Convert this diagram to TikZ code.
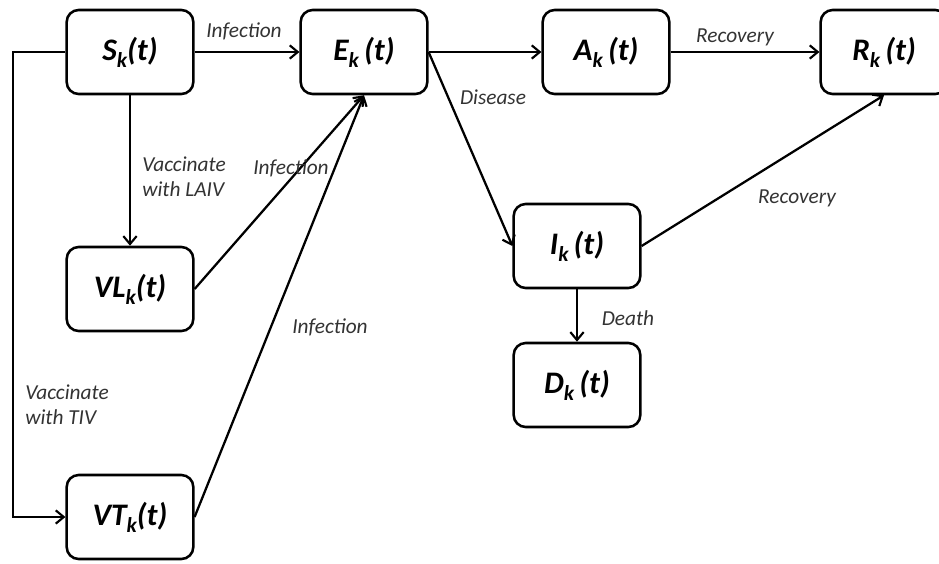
\documentclass[tikz,border=0pt]{standalone}
\usepackage{fontspec}
\setmainfont{Carlito}
\usetikzlibrary{arrows.meta}
\newcommand{\mysub}[1]{\raisebox{-0.45ex}{\fontsize{16}{16}\selectfont #1}}
\begin{document}
\begin{tikzpicture}[x=0.75pt,y=-0.75pt,
  box/.style={draw, line width=1.9pt, rounded corners=9pt, minimum width=95pt, minimum height=63pt,
    font=\fontsize{23.5}{25}\selectfont\bfseries\itshape, fill=white, inner sep=0pt},
  arr/.style={line width=1.7pt, -{Straight Barb[length=6pt,width=10pt,line width=1.6pt]}},
  lbl/.style={font=\fontsize{16}{19}\selectfont\itshape, text=black!80, inner sep=0pt, align=left}]
\clip (0,0) rectangle (939,564);
\fill[white] (0,0) rectangle (939,564);
% nodes
\node[box] (S)  at (130,52)  {S\mysub{k}(t)};
\node[box] (E)  at (364,52)  {E\mysub{k}\,(t)};
\node[box] (A)  at (606,52)  {A\mysub{k}\,(t)};
\node[box] (R)  at (884,52)  {R\mysub{k}\,(t)};
\node[box] (VL) at (130,289) {VL\mysub{k}(t)};
\node[box] (VT) at (130,517) {VT\mysub{k}(t)};
\node[box] (I)  at (577,246) {I\mysub{k}\,(t)};
\node[box] (D)  at (577,385) {D\mysub{k}\,(t)};
\coordinate (L) at (13,300);
% connectors
\draw[arr] (S) -- (E);
\draw[arr] (S) -- (VL);
\draw[arr] (S.west) -| (L) |- (VT.west);
\draw[arr] (VL.east) -- (E.south);
\draw[arr] (VT.east) -- (E.south);
\draw[arr] (E) -- (A);
\draw[arr] (A) -- (R);
\draw[arr] (E.east) -- (I.west);
\draw[arr] (I.east) -- (R.south);
\draw[arr] (I) -- (D);
% labels
\node[lbl] (l1) at (244,31) {Infection};
\node[lbl, anchor=west] (l2) at (142,177) {Vaccinate\\with LAIV};
\node[lbl] (l3) at (291,168) {Infection};
\node[lbl] (l4) at (330,327) {Infection};
\node[lbl, anchor=west] (l5) at (25,405) {Vaccinate\\with TIV};
\node[lbl] (l6) at (493,97) {Disease};
\node[lbl] (l7) at (735,37) {Recovery};
\node[lbl] (l8) at (797,198) {Recovery};
\node[lbl] (l9) at (628,318) {Death};
\end{tikzpicture}
\end{document}
